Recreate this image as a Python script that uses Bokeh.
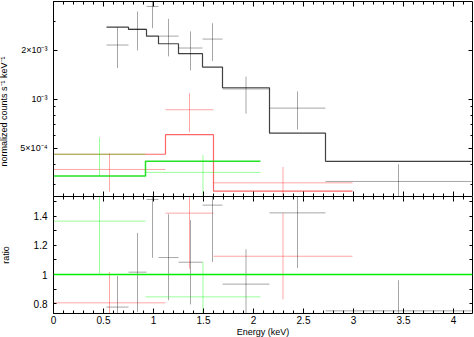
from bokeh.plotting import figure
from bokeh.models import (Range1d, FixedTicker, LinearAxis, LogAxis,
                          CustomJSTickFormatter, Span)
from bokeh.layouts import column
from bokeh.embed import file_html
from bokeh.resources import INLINE

# ---------------- data ----------------
# black spectrum
black_lo = [0.53, 0.75, 0.93, 1.05, 1.25, 1.49, 1.69, 2.16, 2.72]
black_hi = [0.75, 0.93, 1.05, 1.25, 1.49, 1.69, 2.16, 2.72, 4.18]
black_rate = [2.16e-3, 2.72e-3, 3.73e-3, 2.45e-3, 2.07e-3, 2.35e-3, 1.16e-3, 8.84e-4, 3.13e-4]
black_rate_lo = [1.56e-3, 2.00e-3, 2.74e-3, 1.84e-3, 1.51e-3, 1.72e-3, 8.17e-4, 6.52e-4, 2.20e-4]
black_rate_hi = [2.78e-3, 3.47e-3, 4.70e-3, 3.13e-3, 2.62e-3, 2.94e-3, 1.38e-3, 1.12e-3, 3.99e-4]
black_model = [2.78e-3, 2.69e-3, 2.45e-3, 2.20e-3, 1.91e-3, 1.58e-3, 1.18e-3, 6.2e-4, 4.16e-4]
black_ratio = [0.777, 1.016, 1.514, 1.116, 1.084, 1.475, 0.934, 1.422, 0.751]
black_ratio_lo = [0.56, 0.744, 1.114, 0.824, 0.795, 1.086, 0.69, 1.045, 0.54]
black_ratio_hi = [0.99, 1.285, 1.92, 1.413, 1.372, 1.86, 1.173, 1.80, 0.961]

# red spectrum
red_lo = [0.0, 1.12, 1.60]
red_hi = [1.12, 1.60, 2.99]
red_rate = [3.71e-4, 8.64e-4, 3.07e-4]
red_rate_lo = [2.71e-4, 6.30e-4, 2.20e-4]
red_rate_hi = [4.66e-4, 1.09e-3, 3.85e-4]
red_model = [4.60e-4, 6.07e-4, 2.73e-4]
red_ratio = [0.806, 1.42, 1.125]
red_ratio_lo = [0.59, 1.04, 0.83]
red_ratio_hi = [1.018, 1.80, 1.42]

# green spectrum
green_lo = [0.0, 0.92]
green_hi = [0.92, 2.07]
green_rate = [4.60e-4, 3.56e-4]
green_rate_lo = [3.38e-4, 2.40e-4]
green_rate_hi = [5.84e-4, 4.55e-4]
green_model = [3.38e-4, 4.16e-4]
green_ratio = [1.365, 0.847]
green_ratio_lo = [1.007, 0.61]
green_ratio_hi = [1.72, 1.086]

x_major = [0, 0.5, 1, 1.5, 2, 2.5, 3, 3.5, 4]
x_minor = [i / 10 for i in range(0, 43)]
top_major = [5e-4, 1e-3, 2e-3]
top_minor = [3e-4, 4e-4, 6e-4, 7e-4, 8e-4, 9e-4, 3e-3]
ratio_major = [0.8, 1.0, 1.2, 1.4]
ratio_minor = [0.9, 1.1, 1.3, 1.5]

FONT = "Liberation Sans"

top_fmt = CustomJSTickFormatter(code="""
if (Math.abs(tick - 0.002) < 1e-9) return "2\u00d710\u207b\u00b3";
if (Math.abs(tick - 0.001) < 1e-9) return "10\u207b\u00b3";
if (Math.abs(tick - 0.0005) < 1e-9) return "5\u00d710\u207b\u2074";
return "";
""")
blank_fmt = CustomJSTickFormatter(code="return '';")
ratio_fmt = CustomJSTickFormatter(code="""
const v = Math.round(tick * 10) / 10;
if (Math.abs(v - 1) < 1e-9) return "1";
return v.toFixed(1);
""")


def style_axis(ax, labels=True, major_in=4, minor_in=2):
    ax.major_tick_out = 0
    ax.minor_tick_out = 0
    ax.major_tick_in = major_in
    ax.minor_tick_in = minor_in
    ax.axis_line_color = "black"
    ax.axis_line_width = 1
    ax.major_tick_line_color = "black"
    ax.minor_tick_line_color = "black"
    ax.major_label_text_font = FONT
    ax.major_label_text_font_size = "10px" if labels else "0px"
    ax.major_label_text_color = "black"
    ax.axis_label_text_font = FONT
    ax.axis_label_text_font_style = "normal"
    ax.axis_label_text_font_size = "9px"
    ax.axis_label_text_color = "black"
    if not labels:
        ax.formatter = blank_fmt
        ax.major_label_standoff = 0


def step_path(lo, hi, vals):
    xs, ys = [], []
    for a, b, v in zip(lo, hi, vals):
        xs += [a, b]
        ys += [v, v]
    return xs, ys


def centers(lo, hi):
    return [(a + b) / 2 for a, b in zip(lo, hi)]


x_range = Range1d(0, 4.19)

# ---------------- top panel ----------------
p1 = figure(frame_width=419, frame_height=195, x_range=x_range,
            y_range=Range1d(2.53e-4, 4.0e-3), y_axis_type="log",
            output_backend="svg", toolbar_location=None,
            min_border_left=53, min_border_right=2, min_border_top=1,
            min_border_bottom=0)
p1.grid.visible = False
p1.outline_line_color = None

xt = FixedTicker(ticks=x_major, minor_ticks=x_minor)
yt1 = FixedTicker(ticks=top_major, minor_ticks=top_minor)

p1.xaxis.ticker = xt
style_axis(p1.xaxis[0], labels=False, major_in=5, minor_in=3)
p1.yaxis.ticker = yt1
p1.yaxis.formatter = top_fmt
style_axis(p1.yaxis[0], labels=True, major_in=4, minor_in=2)
p1.yaxis.major_label_text_font_size = "9px"
p1.yaxis.major_label_standoff = 6
# trailing no-break spaces shift the centred label down, as in the reference
p1.yaxis.axis_label = "normalized counts s\u207b\u00b9 keV\u207b\u00b9" + "\u00a0" * 10
p1.yaxis.axis_label_standoff = 8

ax_top = LinearAxis(ticker=xt)
style_axis(ax_top, labels=False, major_in=5, minor_in=3)
p1.add_layout(ax_top, "above")
ax_r1 = LogAxis(ticker=yt1)
style_axis(ax_r1, labels=False, major_in=4, minor_in=2)
p1.add_layout(ax_r1, "right")

# black
mx, my = step_path(black_lo, black_hi, black_model)
p1.line(mx, my, line_color="black", line_alpha=0.75, line_width=1.2)
bc = centers(black_lo, black_hi)
p1.segment(black_lo, black_rate, black_hi, black_rate, line_color="black", line_alpha=0.35, line_width=1)
p1.segment(bc, black_rate_lo, bc, black_rate_hi, line_color="black", line_alpha=0.35, line_width=1)
# red
mx, my = step_path(red_lo, red_hi, red_model)
p1.line(mx, my, line_color="red", line_alpha=0.6, line_width=1.2)
rc = centers(red_lo, red_hi)
p1.segment(red_lo, red_rate, red_hi, red_rate, line_color="red", line_alpha=0.35, line_width=1)
p1.segment(rc, red_rate_lo, rc, red_rate_hi, line_color="red", line_alpha=0.35, line_width=1)
# green
mx, my = step_path(green_lo, green_hi, green_model)
p1.line(mx, my, line_color="#00dd00", line_alpha=0.85, line_width=1.5)
gc = centers(green_lo, green_hi)
p1.segment(green_lo, green_rate, green_hi, green_rate, line_color="#00ff00", line_alpha=0.4, line_width=1)
p1.segment(gc, green_rate_lo, gc, green_rate_hi, line_color="#00ff00", line_alpha=0.4, line_width=1)

# ---------------- ratio panel ----------------
p2 = figure(frame_width=419, frame_height=117, x_range=x_range,
            y_range=Range1d(0.733, 1.534),
            output_backend="svg", toolbar_location=None,
            min_border_left=53, min_border_right=2, min_border_top=0,
            min_border_bottom=0)
p2.grid.visible = False
p2.outline_line_color = None

yt2 = FixedTicker(ticks=ratio_major, minor_ticks=ratio_minor)
p2.xaxis.ticker = xt
style_axis(p2.xaxis[0], labels=True, major_in=5, minor_in=3)
p2.xaxis.major_label_standoff = 2
p2.xaxis.axis_label = "Energy (keV)"
p2.xaxis.axis_label_standoff = 0
p2.yaxis.ticker = yt2
p2.yaxis.formatter = ratio_fmt
style_axis(p2.yaxis[0], labels=True, major_in=3, minor_in=3)
p2.yaxis.major_label_standoff = 6
p2.yaxis.axis_label = "ratio"
p2.yaxis.axis_label_standoff = 20

ax_top2 = LinearAxis(ticker=xt)
style_axis(ax_top2, labels=False, major_in=5, minor_in=3)
p2.add_layout(ax_top2, "above")
ax_r2 = LinearAxis(ticker=yt2)
style_axis(ax_r2, labels=False, major_in=3, minor_in=3)
p2.add_layout(ax_r2, "right")

p2.segment(black_lo, black_ratio, black_hi, black_ratio, line_color="black", line_alpha=0.35, line_width=1)
p2.segment(bc, black_ratio_lo, bc, black_ratio_hi, line_color="black", line_alpha=0.35, line_width=1)
p2.segment(red_lo, red_ratio, red_hi, red_ratio, line_color="red", line_alpha=0.35, line_width=1)
p2.segment(rc, red_ratio_lo, rc, red_ratio_hi, line_color="red", line_alpha=0.35, line_width=1)
p2.segment(green_lo, green_ratio, green_hi, green_ratio, line_color="#00ff00", line_alpha=0.4, line_width=1)
p2.segment(gc, green_ratio_lo, gc, green_ratio_hi, line_color="#00ff00", line_alpha=0.4, line_width=1)
p2.add_layout(Span(location=1.0, dimension="width", line_color="#00ee00", line_width=1.5))

layout = column(p1, p2, spacing=0, styles={"margin-left": "-4px"})

open("out.html", "w").write(file_html(layout, INLINE))
